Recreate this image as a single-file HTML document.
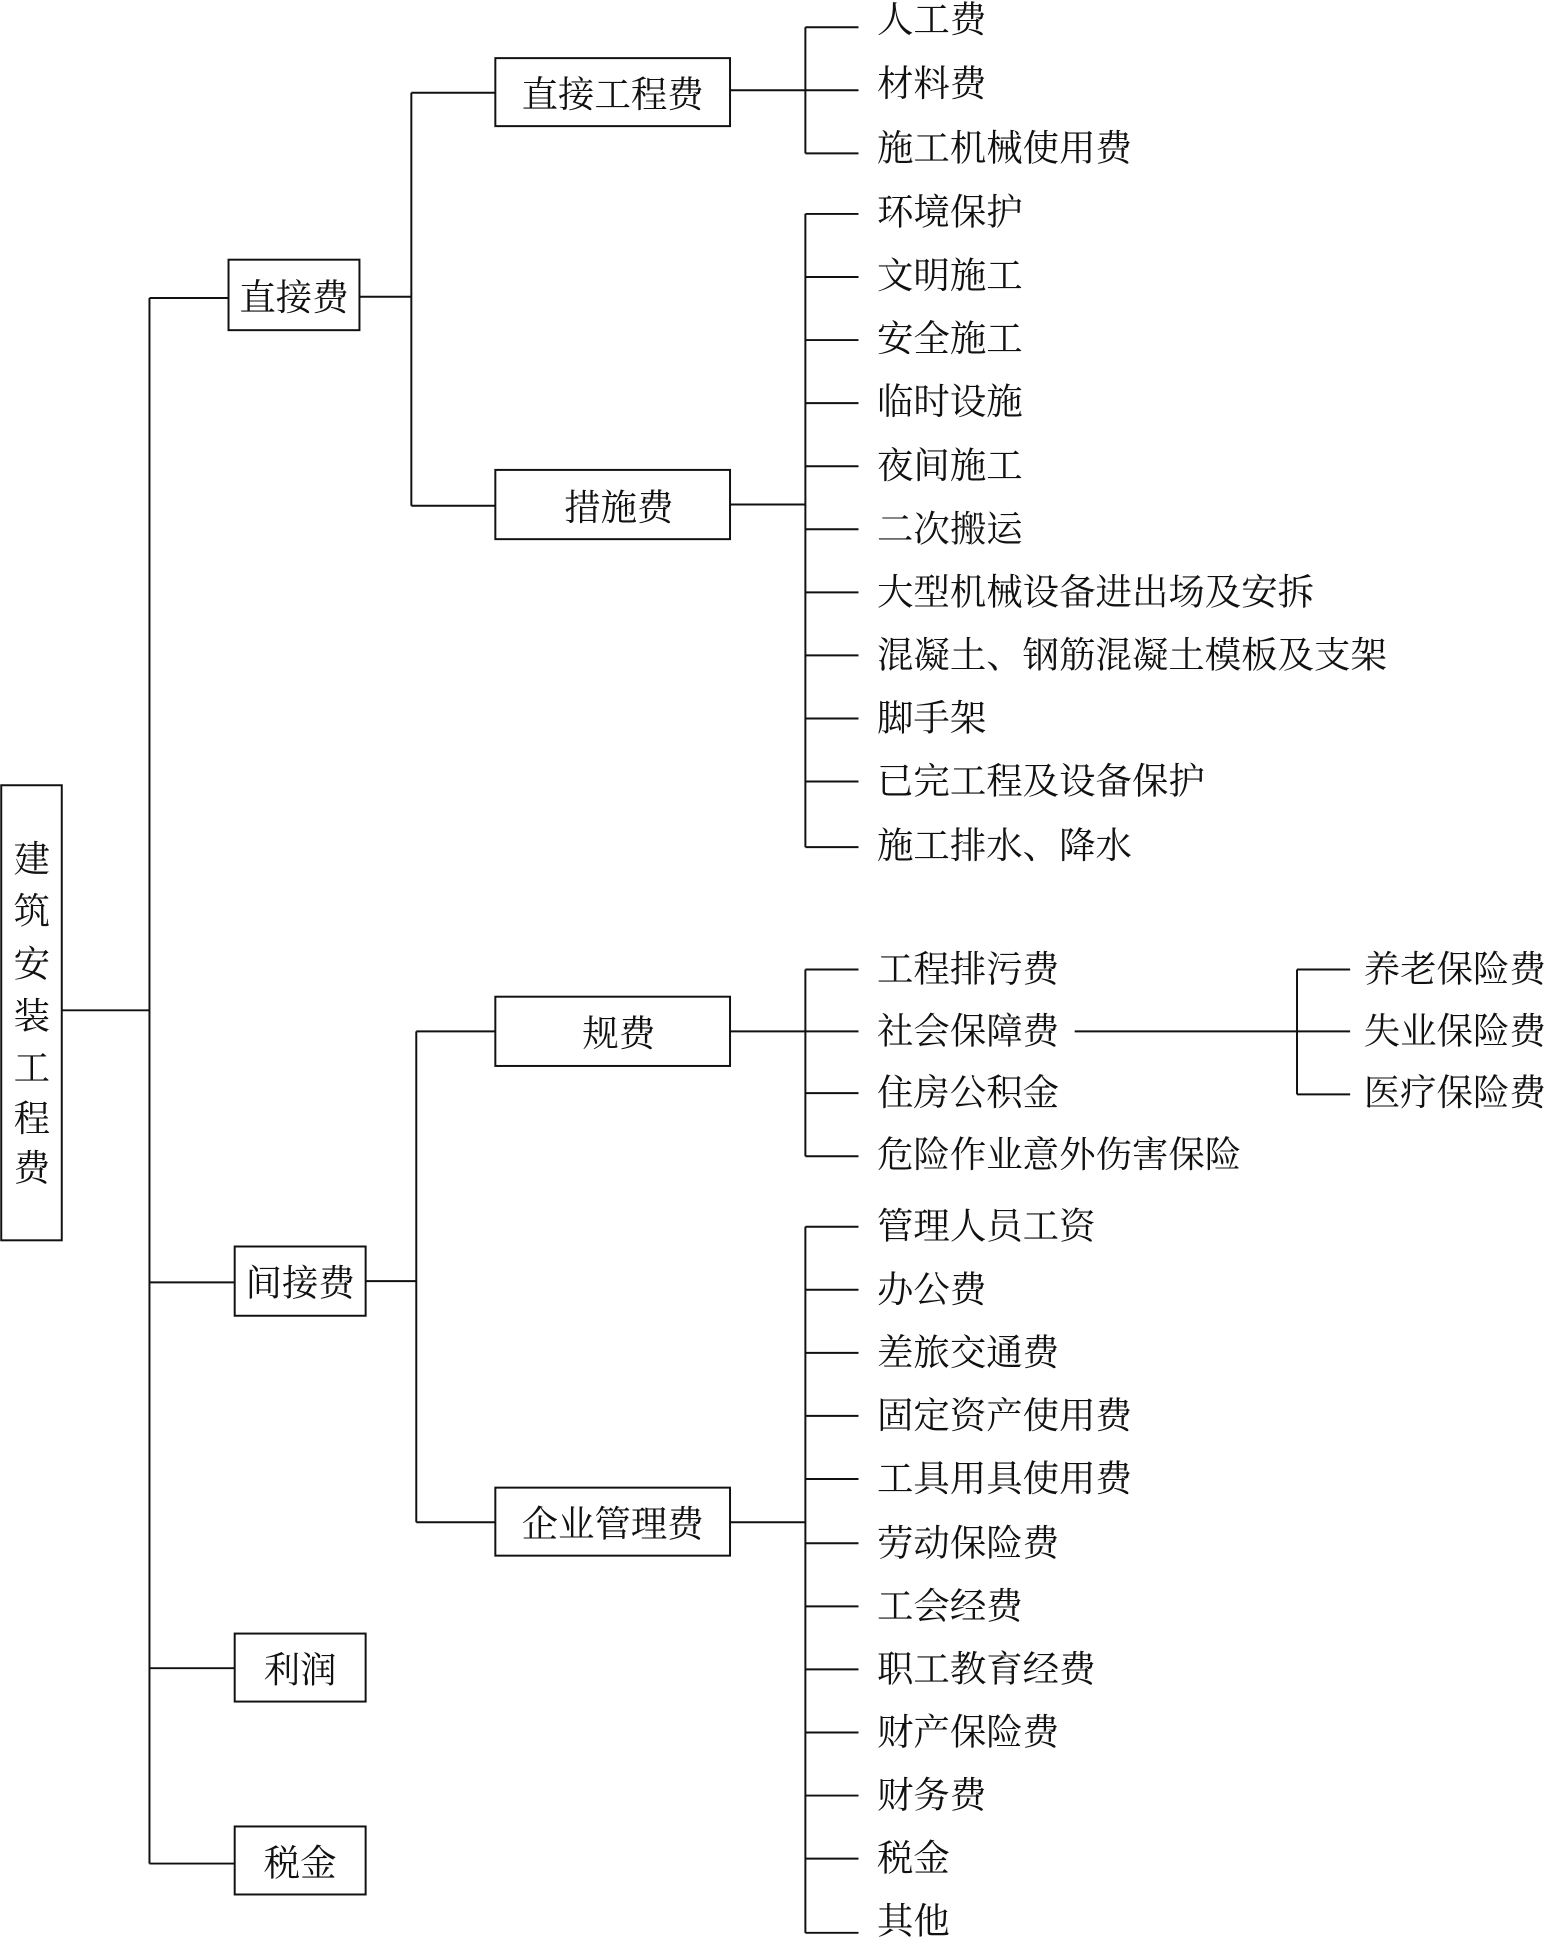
<!DOCTYPE html>
<html><head><meta charset="utf-8"><style>
html,body{margin:0;padding:0;background:#fff;}
svg{display:block;}
text{font-family:"Liberation Serif","Noto Serif CJK SC",serif;font-size:29.5px;fill:#111;dominant-baseline:central;}
</style></head><body>
<svg width="1549" height="1939" viewBox="0 0 1254 1568" preserveAspectRatio="none" xmlns="http://www.w3.org/2000/svg">
<g stroke="#111" stroke-width="1.6" fill="none">
<rect x="1" y="635" width="49" height="368"/>
<line x1="50" y1="817" x2="121" y2="817"/>
<line x1="121" y1="241" x2="121" y2="1507"/>
<line x1="121" y1="241" x2="185" y2="241"/>
<line x1="121" y1="1037" x2="190" y2="1037"/>
<line x1="121" y1="1349" x2="190" y2="1349"/>
<line x1="121" y1="1507" x2="190" y2="1507"/>
<rect x="185" y="210" width="106" height="57"/>
<rect x="190" y="1008" width="106" height="56"/>
<rect x="190" y="1321" width="106" height="55"/>
<rect x="190" y="1477" width="106" height="55"/>
<line x1="291" y1="240" x2="333" y2="240"/>
<line x1="333" y1="75" x2="333" y2="409"/>
<line x1="333" y1="75" x2="401" y2="75"/>
<line x1="333" y1="409" x2="401" y2="409"/>
<rect x="401" y="47" width="190" height="55"/>
<rect x="401" y="380" width="190" height="56"/>
<line x1="591" y1="73" x2="652" y2="73"/>
<line x1="652" y1="22" x2="652" y2="124"/>
<line x1="652" y1="22" x2="695" y2="22"/>
<line x1="652" y1="73" x2="695" y2="73"/>
<line x1="652" y1="124" x2="695" y2="124"/>
<line x1="591" y1="408" x2="652" y2="408"/>
<line x1="652" y1="173" x2="652" y2="685"/>
<g>
<line x1="652" y1="173" x2="695" y2="173"/><line x1="652" y1="224" x2="695" y2="224"/>
<line x1="652" y1="275" x2="695" y2="275"/><line x1="652" y1="326" x2="695" y2="326"/>
<line x1="652" y1="377" x2="695" y2="377"/><line x1="652" y1="428" x2="695" y2="428"/>
<line x1="652" y1="479" x2="695" y2="479"/><line x1="652" y1="530" x2="695" y2="530"/>
<line x1="652" y1="581" x2="695" y2="581"/><line x1="652" y1="632" x2="695" y2="632"/>
<line x1="652" y1="685" x2="695" y2="685"/>
</g>
<line x1="296" y1="1036" x2="337" y2="1036"/>
<line x1="337" y1="834" x2="337" y2="1231"/>
<line x1="337" y1="834" x2="401" y2="834"/>
<line x1="337" y1="1231" x2="401" y2="1231"/>
<rect x="401" y="806" width="190" height="56"/>
<rect x="401" y="1203" width="190" height="55"/>
<line x1="591" y1="834" x2="652" y2="834"/>
<line x1="652" y1="784" x2="652" y2="935"/>
<line x1="652" y1="784" x2="695" y2="784"/><line x1="652" y1="834" x2="695" y2="834"/>
<line x1="652" y1="884" x2="695" y2="884"/><line x1="652" y1="935" x2="695" y2="935"/>
<line x1="870" y1="834" x2="1050" y2="834"/>
<line x1="1050" y1="784" x2="1050" y2="885"/>
<line x1="1050" y1="784" x2="1093" y2="784"/><line x1="1050" y1="834" x2="1093" y2="834"/><line x1="1050" y1="885" x2="1093" y2="885"/>
<line x1="591" y1="1231" x2="652" y2="1231"/>
<line x1="652" y1="992" x2="652" y2="1563"/>
<line x1="652" y1="992" x2="695" y2="992"/><line x1="652" y1="1043" x2="695" y2="1043"/>
<line x1="652" y1="1094" x2="695" y2="1094"/><line x1="652" y1="1145" x2="695" y2="1145"/>
<line x1="652" y1="1196" x2="695" y2="1196"/><line x1="652" y1="1248" x2="695" y2="1248"/>
<line x1="652" y1="1299" x2="695" y2="1299"/><line x1="652" y1="1350" x2="695" y2="1350"/>
<line x1="652" y1="1401" x2="695" y2="1401"/><line x1="652" y1="1452" x2="695" y2="1452"/>
<line x1="652" y1="1503" x2="695" y2="1503"/><line x1="652" y1="1563" x2="695" y2="1563"/>
</g>
<g transform="translate(0,2)">
<text x="11" y="693">建</text><text x="11" y="735">筑</text><text x="11" y="778">安</text>
<text x="11" y="820">装</text><text x="11" y="862">工</text><text x="11" y="903">程</text><text x="11" y="943">费</text>
<text x="238" y="239" text-anchor="middle">直接费</text>
<text x="243" y="1036" text-anchor="middle">间接费</text>
<text x="243" y="1349" text-anchor="middle">利润</text>
<text x="243" y="1505" text-anchor="middle">税金</text>
<text x="496" y="75" text-anchor="middle">直接工程费</text>
<text x="501" y="409" text-anchor="middle">措施费</text>
<text x="501" y="834" text-anchor="middle">规费</text>
<text x="496" y="1231" text-anchor="middle">企业管理费</text>
<text x="710" y="14">人工费</text>
<text x="710" y="66">材料费</text>
<text x="710" y="118">施工机械使用费</text>
<text x="710" y="170">环境保护</text>
<text x="710" y="221">文明施工</text>
<text x="710" y="272">安全施工</text>
<text x="710" y="323">临时设施</text>
<text x="710" y="375">夜间施工</text>
<text x="710" y="426">二次搬运</text>
<text x="710" y="477">大型机械设备进出场及安拆</text>
<text x="710" y="528">混凝土、钢筋混凝土模板及支架</text>
<text x="710" y="579">脚手架</text>
<text x="710" y="630">已完工程及设备保护</text>
<text x="710" y="682">施工排水、降水</text>
<text x="710" y="782">工程排污费</text>
<text x="710" y="832">社会保障费</text>
<text x="710" y="882">住房公积金</text>
<text x="710" y="932">危险作业意外伤害保险</text>
<text x="1104" y="782">养老保险费</text>
<text x="1104" y="832">失业保险费</text>
<text x="1104" y="882">医疗保险费</text>
<text x="710" y="990">管理人员工资</text>
<text x="710" y="1041">办公费</text>
<text x="710" y="1092">差旅交通费</text>
<text x="710" y="1143">固定资产使用费</text>
<text x="710" y="1194">工具用具使用费</text>
<text x="710" y="1246">劳动保险费</text>
<text x="710" y="1297">工会经费</text>
<text x="710" y="1348">职工教育经费</text>
<text x="710" y="1399">财产保险费</text>
<text x="710" y="1450">财务费</text>
<text x="710" y="1501">税金</text>
<text x="710" y="1552">其他</text>
</g>
</svg>
</body></html>
